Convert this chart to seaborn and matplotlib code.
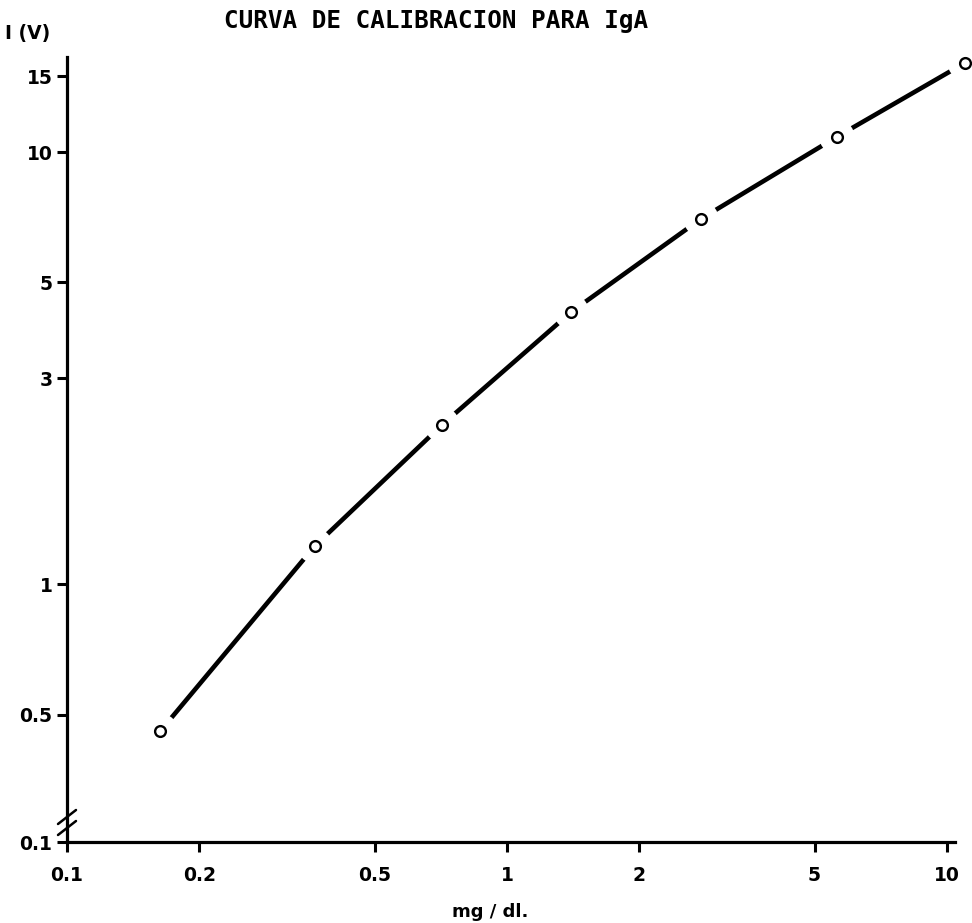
import matplotlib
matplotlib.use("Agg")
import matplotlib.pyplot as plt
import numpy as np
import pandas as pd
import seaborn as sns

# IgA calibration points: concentration (mg/dl) vs. reading I (V)
conc_mg_dl = [0.163, 0.366, 0.712, 1.40, 2.76, 5.62, 11.0]
signal_v = [0.458, 1.228, 2.34, 4.27, 7.01, 10.85, 16.1]

x_ticks = [0.1, 0.2, 0.5, 1, 2, 5, 10]
x_tick_labels = ["0.1", "0.2", "0.5", "1", "2", "5", "10"]
y_ticks = [0.5, 1, 3, 5, 10, 15]
y_tick_labels = ["0.5", "1", "3", "5", "10", "15"]
y_break_label = "0.1"

title_text = "CURVA DE CALIBRACION PARA IgA"
x_label_text = "mg / dl."
y_label_text = "I (V)"

df = pd.DataFrame({"conc": conc_mg_dl, "signal": signal_v})

sns.set_style("ticks")
plt.rcParams["font.family"] = ["DejaVu Sans"]
plt.rcParams["font.weight"] = "bold"
plt.rcParams["text.color"] = "black"
plt.rcParams["xtick.color"] = "black"
plt.rcParams["ytick.color"] = "black"
plt.rcParams["xtick.labelcolor"] = "black"
plt.rcParams["ytick.labelcolor"] = "black"

W, H = 972, 923
fig = plt.figure(figsize=(W / 100, H / 100), dpi=100)
ax = fig.add_axes([67 / W, 1 - 842 / H, (955 - 67) / W, (842 - 57) / H])
ax.set_xscale("log")
ax.set_yscale("log")

# lower end of the y axis is broken: it starts at a nominal 0.1
y_bottom = 0.2536
ax.set_xlim(0.1, 10.43)
ax.set_ylim(y_bottom, 16.6)

# calibration curve
sns.lineplot(data=df, x="conc", y="signal", ax=ax, color="black",
             linewidth=3.3, solid_capstyle="round", zorder=2,
             estimator=None, sort=True)
# open the curve around each point, then draw the hollow markers
sns.scatterplot(data=df, x="conc", y="signal", ax=ax, s=640,
                color="white", edgecolor="none", zorder=3, clip_on=False)
sns.scatterplot(data=df, x="conc", y="signal", ax=ax, s=60,
                facecolor="white", edgecolor="black", linewidth=1.7,
                zorder=4, clip_on=False)

ax.set_xticks(x_ticks)
ax.set_xticklabels(x_tick_labels)
ax.set_yticks([y_bottom] + y_ticks)
ax.set_yticklabels([y_break_label] + y_tick_labels)
ax.minorticks_off()

for side in ("top", "right"):
    ax.spines[side].set_visible(False)
for side in ("left", "bottom"):
    ax.spines[side].set_linewidth(2.3)
    ax.spines[side].set_color("black")

ax.tick_params(axis="both", which="major", direction="out", length=7.5,
               width=2.2, color="black", labelcolor="black", labelsize=13.5,
               pad=3)
ax.tick_params(axis="x", pad=10)
for lab in ax.get_xticklabels() + ax.get_yticklabels():
    lab.set_fontweight("bold")

ax.set_xlabel("")
ax.set_ylabel("")

# break marks on the y axis
dx, dy = 9 / 888, 7 / 785
for yc in (25 / 785, 14 / 785):
    ax.plot([-dx, dx], [yc - dy, yc + dy], transform=ax.transAxes,
            color="black", linewidth=1.8, clip_on=False, zorder=5)

fig.text(436 / W, 1 - 21 / H, title_text, ha="center", va="center",
         fontsize=17.5, fontweight="bold", family="DejaVu Sans Mono",
         color="black")
fig.text(5 / W, 1 - 34 / H, y_label_text, ha="left", va="center",
         fontsize=13.5, fontweight="bold", color="black")
fig.text(490 / W, 1 - 912 / H, x_label_text, ha="center", va="center",
         fontsize=13, fontweight="bold", color="black")

fig.savefig("out.png", dpi=100, facecolor="white")
